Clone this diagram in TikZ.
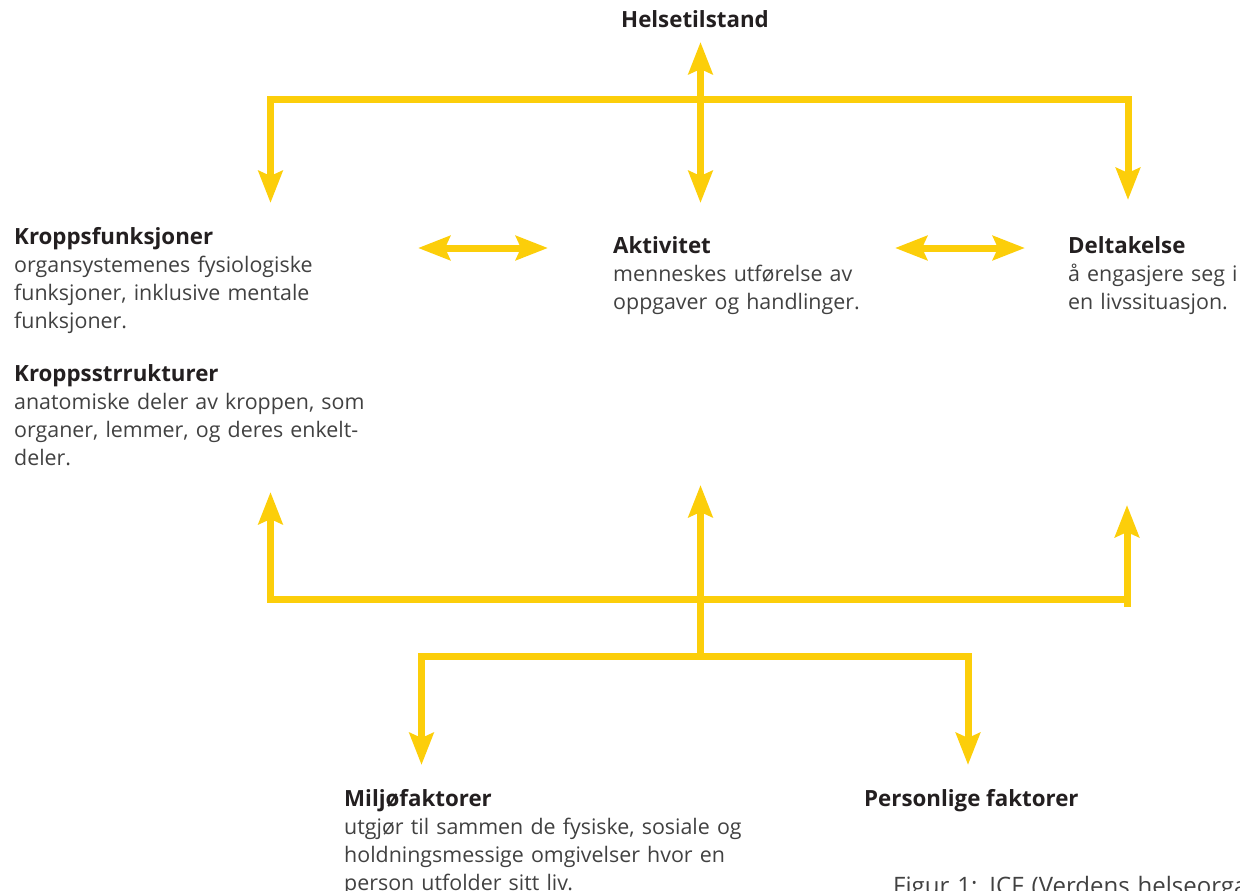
\documentclass[tikz,border=0pt]{standalone}
\usepackage{fontspec}
\setmainfont{Open Sans}
\usetikzlibrary{arrows.meta}
\definecolor{icfyellow}{RGB}{252,206,10}
\definecolor{icftext}{RGB}{35,31,32}
\definecolor{icfbody}{RGB}{65,65,65}
\tikzset{
  link/.style={draw=icfyellow, line width=7pt},
  tipend/.style={-{Stealth[length=32pt,width=24pt,inset=5pt]}},
  twoway/.style={{Stealth[length=32pt,width=24pt,inset=5pt]}-{Stealth[length=32pt,width=24pt,inset=5pt]}},
  head/.style={font=\fontsize{22.3}{28}\selectfont\bfseries, text=icftext, inner sep=0pt, anchor=base west},
  body/.style={font=\fontsize{21.4}{28}\selectfont, text=icfbody, inner sep=0pt, anchor=base west, text width=460pt, align=left},
}
\begin{document}
\begin{tikzpicture}[x=1pt,y=-1pt]
\useasboundingbox (0,0) rectangle (1240,891);
\clip (0,0) rectangle (1240,891);

% text
\node[head, anchor=base] (hs) at (695,28) {Helsetilstand};
\node[head] (kf) at (14,244) {Kroppsfunksjoner};
\node[body] (kfb) at (14,272) {organsystemenes fysiologiske\\funksjoner, inklusive mentale\\funksjoner.};
\node[head] (ks) at (14,381) {Kroppsstrrukturer};
\node[body] (ksb) at (14,409) {anatomiske deler av kroppen, som\\organer, lemmer, og deres enkelt-\\deler.};
\node[head] (ak) at (613,253) {Aktivitet};
\node[body] (akb) at (613,281) {menneskes utførelse av\\oppgaver og handlinger.};
\node[head] (dt) at (1068,253) {Deltakelse};
\node[body] (dtb) at (1068,281) {å engasjere seg i\\en livssituasjon.};
\node[head] (mf) at (344,806) {Miljøfaktorer};
\node[body] (mfb) at (344,834) {utgjør til sammen de fysiske, sosiale og\\holdningsmessige omgivelser hvor en\\person utfolder sitt liv.};
\node[head] (pf) at (864,806) {Personlige faktorer};
\node[body, font=\fontsize{24}{30}\selectfont, text width=500pt] (fig) at (893,894) {Figur 1: ICF (Verdens helseorganisasjon)};

% connector points
\coordinate (hsTip) at (700.5,42);
\coordinate (topHub) at (700.5,99.5);
\coordinate (kfTip) at (270.5,203);
\coordinate (akTip) at (700.5,203);
\coordinate (dtTip) at (1128,200);
\coordinate (kfL) at (418,248);
\coordinate (akL) at (548,248);
\coordinate (akR) at (895,248);
\coordinate (dtL) at (1025,248);
\coordinate (botHub) at (700.5,599);
\coordinate (botEnd) at (1131,599);
\coordinate (ksTip) at (270.5,492);
\coordinate (akUp) at (700.5,485);
\coordinate (dtFoot) at (1127,607);
\coordinate (dtUp) at (1127,505);
\coordinate (envHub) at (700.5,656);
\coordinate (mfTip) at (421.5,765);
\coordinate (pfTip) at (968,765);

% top branch
\draw[link,tipend] (topHub) -| (kfTip);
\draw[link,tipend] (topHub) -| (dtTip);
\draw[link,twoway] (hsTip) -- (akTip);
% horizontal double arrows
\draw[link,twoway] (kfL) -- (akL);
\draw[link,twoway] (akR) -- (dtL);
% bottom branch
\draw[link,tipend] (botHub) -| (ksTip);
\draw[link] (botHub) -- (botEnd);
\draw[link,tipend] (dtFoot) -- (dtUp);
\draw[link,tipend] (envHub) -- (akUp);
\draw[link,tipend] (envHub) -| (mfTip);
\draw[link,tipend] (envHub) -| (pfTip);
\end{tikzpicture}
\end{document}
